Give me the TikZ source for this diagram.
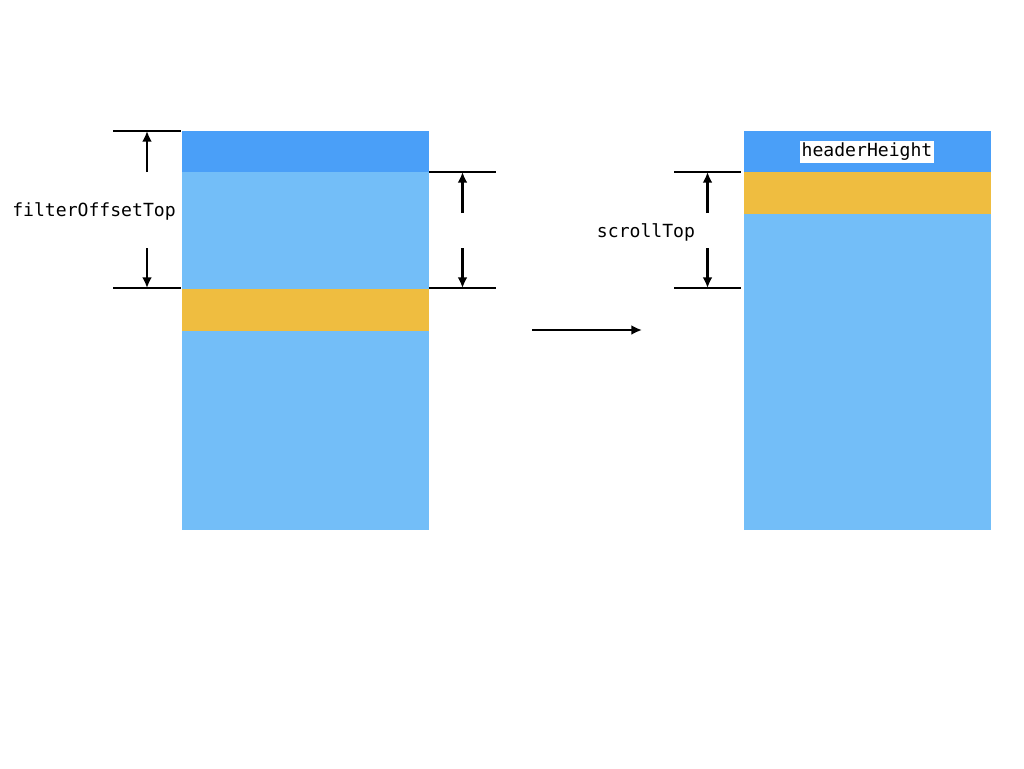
\documentclass[tikz,border=0pt]{standalone}
\usepackage{fontspec}
\setmonofont{DejaVu Sans Mono}
\usetikzlibrary{arrows.meta,positioning}
\definecolor{headblue}{RGB}{74,159,248}
\definecolor{bodyblue}{RGB}{115,190,248}
\definecolor{filteryellow}{RGB}{239,189,64}

\begin{document}
\begin{tikzpicture}[x=0.02cm,y=-0.02cm,
  every node/.style={font=\ttfamily\fontsize{10.3}{12}\selectfont,inner sep=1pt},
  dimline/.style={line width=1.15pt},
  dimarrow/.style={line width=1.15pt,-{Latex[length=6pt,width=5.5pt]}}]
  \useasboundingbox (0,0) rectangle (1024,768);
  % before scrolling
  \fill[bodyblue] (182,131) rectangle (429,530);
  \fill[headblue] (182,131) rectangle (429,172);
  \fill[filteryellow] (182,289) rectangle (429,331);
  % after scrolling
  \fill[bodyblue] (744,131) rectangle (991,530);
  \fill[headblue] (744,131) rectangle (991,172);
  \fill[filteryellow] (744,172) rectangle (991,214);
  \node[fill=white] (header) at (867,152) {headerHeight};
  % dimension markers
  \foreach \xl/\xr/\ya/\yb in {113/181/131/288, 429/496/172/288, 674/741/172/288}{
    \draw[dimline] (\xl,\ya) -- (\xr,\ya);
    \draw[dimline] (\xl,\yb) -- (\xr,\yb);
    \coordinate (topA) at ({(\xl+\xr)/2},\ya+41);
    \coordinate (topB) at ({(\xl+\xr)/2},\ya);
    \coordinate (botA) at ({(\xl+\xr)/2},\yb-40);
    \coordinate (botB) at ({(\xl+\xr)/2},\yb);
    \draw[dimarrow] (topA) -- (topB);
    \draw[dimarrow] (botA) -- (botB);
  }
  \node (offset) at (94,211) {filterOffsetTop};
  \node (scroll) at (646,232) {scrollTop};
  % scroll step
  \coordinate (before) at (532,330);
  \coordinate (after) at (642,330);
  \draw[dimarrow] (before) -- (after);
\end{tikzpicture}
\end{document}
